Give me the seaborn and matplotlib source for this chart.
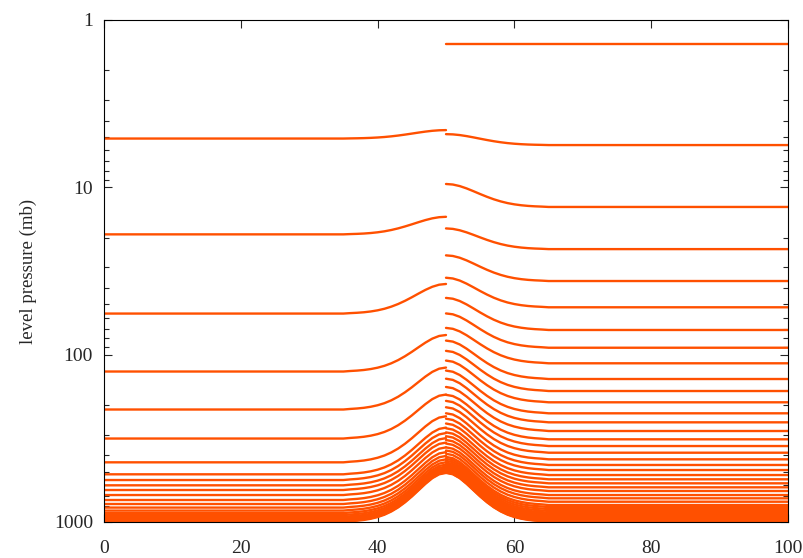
import pandas as pd
import matplotlib
matplotlib.use("Agg")
import matplotlib.pyplot as plt
import seaborn as sns
from matplotlib.ticker import LogLocator, NullFormatter, FixedLocator, FixedFormatter

# hill profile: fraction of the peak displacement vs distance from the ridge at x=50
hill_dist = [0, 1, 2, 3, 4, 5, 6, 7, 8, 9, 10, 11, 12, 13, 14, 15]
hill_shape = [1.0, 0.980, 0.922, 0.832, 0.721, 0.600, 0.480, 0.368,
              0.271, 0.191, 0.130, 0.085, 0.053, 0.032, 0.018, 0.0]

# coarse levels (left half): pressure over flat ground and at the hill top (mb)
left_flat = [5.11, 19.1, 56.8, 126.1, 212.7, 317.1, 439.9, 518.8, 561.3,
             603.6, 644.0, 690.0, 738.9, 780.6, 820, 855, 885, 910, 932,
             950, 966, 979, 990, 998]
left_peak = [4.55, 15.0, 37.8, 76.3, 119.4, 173.1, 233.5, 272.8, 294.1,
             315.2, 335.3, 358.1, 382.3, 402.8, 422.2, 439.3, 454.0, 466.2,
             476.9, 485.7, 493.5, 499.8, 505.1, 509.0]

# fine levels (right half)
right_flat = [1.39, 5.59, 13.1, 23.4, 36.3, 52.1, 71.2, 90.9, 112.6, 139.8,
              164.9, 192.6, 224.1, 253.7, 285.9, 320.5, 351.6, 385.4, 422.1,
              456.3, 489.1, 524.0, 555.8, 587.3, 620.5, 652.9, 690.0, 721.9,
              756.5, 791.6, 815, 838, 860, 880, 898, 915, 930, 944, 956, 967,
              977, 985, 992, 997]
right_peak = [1.39, 4.81, 9.55, 17.6, 25.5, 34.7, 45.8, 56.7, 69.2, 82.4,
              94.9, 108.5, 124.5, 139.2, 156.0, 173.8, 188.9, 206.2, 224.0,
              241.3, 257.9, 275.4, 291.3, 307.1, 323.6, 339.7, 358.1, 373.9,
              391.0, 408.2, 419.7, 431.0, 441.8, 451.5, 460.3, 468.6, 476.0,
              482.8, 488.6, 494.0, 498.8, 502.7, 506.1, 508.6]

x_ticks = [0, 20, 40, 60, 80, 100]
y_ticks = [1, 10, 100, 1000]


def build_levels():
    rows = []
    left_x = [0] + [50 - d for d in reversed(hill_dist)]
    left_s = [0.0] + list(reversed(hill_shape))
    for i, (p0, pk) in enumerate(zip(left_flat, left_peak)):
        for x, s in zip(left_x, left_s):
            rows.append({"x": x, "p": p0 - (p0 - pk) * s, "line": f"L{i}"})
    right_x = [50 + d for d in hill_dist] + [100]
    right_s = list(hill_shape) + [0.0]
    for i, (p0, pk) in enumerate(zip(right_flat, right_peak)):
        for x, s in zip(right_x, right_s):
            rows.append({"x": x, "p": p0 - (p0 - pk) * s, "line": f"R{i}"})
    return pd.DataFrame(rows)


def main():
    sns.set_style("ticks")
    plt.rcParams["font.family"] = ["Liberation Serif", "DejaVu Serif"]
    plt.rcParams["xtick.direction"] = "in"
    plt.rcParams["ytick.direction"] = "in"

    df = build_levels()

    fig = plt.figure(figsize=(8.04, 5.58), dpi=100)
    ax = fig.add_axes([104 / 804, 1 - 522 / 558, 684 / 804, 502 / 558])
    sns.lineplot(data=df, x="x", y="p", units="line", estimator=None,
                 sort=False, color="#ff5000", linewidth=1.7, ax=ax)

    ax.set_yscale("log")
    ax.set_xlim(0, 100)
    ax.set_ylim(1000, 1)
    ax.xaxis.set_major_locator(FixedLocator(x_ticks))
    ax.yaxis.set_major_locator(FixedLocator(y_ticks))
    ax.yaxis.set_major_formatter(FixedFormatter([str(v) for v in y_ticks]))
    ax.yaxis.set_minor_locator(LogLocator(base=10, subs=range(2, 10)))
    ax.yaxis.set_minor_formatter(NullFormatter())

    ax.tick_params(axis="both", which="major", labelsize=14, length=6,
                   width=0.8, top=True, right=True, pad=8)
    ax.tick_params(axis="x", which="major", pad=13)
    ax.tick_params(axis="y", which="minor", length=3.5, width=0.8, right=True)
    for sp in ax.spines.values():
        sp.set_linewidth(0.8)
        sp.set_color("black")

    ax.set_xlabel("")
    ax.set_ylabel("level pressure (mb)", fontsize=13.5, labelpad=12)

    fig.savefig("out.png", dpi=100)
    plt.close(fig)


if __name__ == "__main__":
    main()
